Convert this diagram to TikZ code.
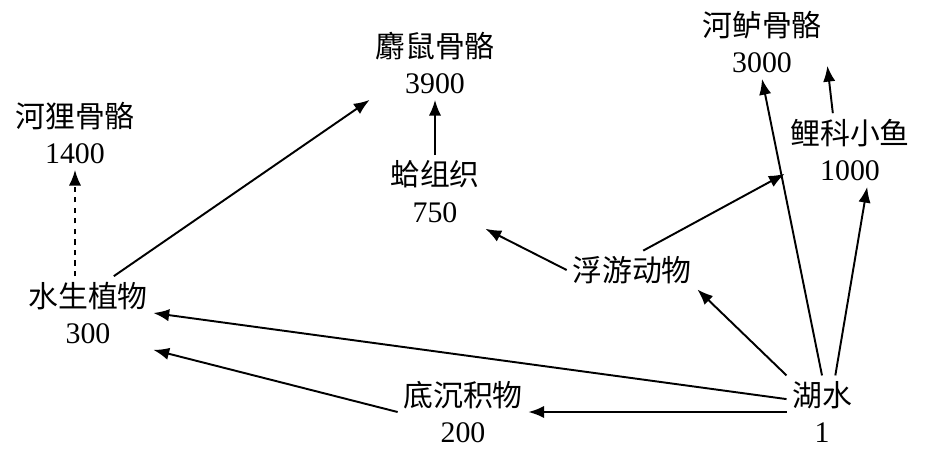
\documentclass[tikz,border=0pt]{standalone}
\usepackage{fontspec}
\setmainfont{Liberation Serif}
\newfontfamily\cjk{Noto Sans CJK SC}
\usetikzlibrary{arrows.meta}

\begin{document}
\begin{tikzpicture}[
    x=0.02cm, y=-0.02cm,
    item/.style={align=center, inner sep=3pt, font=\fontsize{17}{21}\selectfont},
    arrow/.style={-{Latex[length=9pt,width=7pt]}, line width=1.1pt}
]
\useasboundingbox (0,0) rectangle (942,454);

% Samples
\node[item] (beaver) at (75,133) {{\cjk 河狸骨骼}\\1400};
\node[item] (plant) at (88,313) {{\cjk 水生植物}\\300};
\node[item] (muskrat) at (435,63) {{\cjk 麝鼠骨骼}\\3900};
\node[item] (clam) at (435,192) {{\cjk 蛤组织}\\750};
\node[item] (perch) at (762,42) {{\cjk 河鲈骨骼}\\3000};
\node[item] (minnow) at (850,150) {{\cjk 鲤科小鱼}\\1000};
\node[item] (plankton) at (632,270) {\cjk 浮游动物};
\node[item] (sediment) at (463,412) {{\cjk 底沉积物}\\200};
\node[item] (lake) at (822,412) {{\cjk 湖水}\\1};

% Connections
\draw[arrow, dashed] (plant.north -| beaver) -- (beaver.south);
\draw[arrow] (plant.55) -- (muskrat.south west);
\draw[arrow] (clam) -- (muskrat);
\draw[arrow] (plankton.west) -- (clam.south east);
\draw[arrow] (plankton.60) -- (minnow.200);
\draw[arrow] (minnow.115) -- (perch.-20);
\draw[arrow] (lake.north) -- (perch.south);
\draw[arrow] (lake.70) -- (minnow.-65);
\draw[arrow] (lake.north west) -- (plankton.south east);
\draw[arrow] (lake.160) -- (plant.east);
\draw[arrow] (lake.west) -- (sediment.east);
\draw[arrow] (sediment.west) -- (plant.south east);

\end{tikzpicture}
\end{document}
